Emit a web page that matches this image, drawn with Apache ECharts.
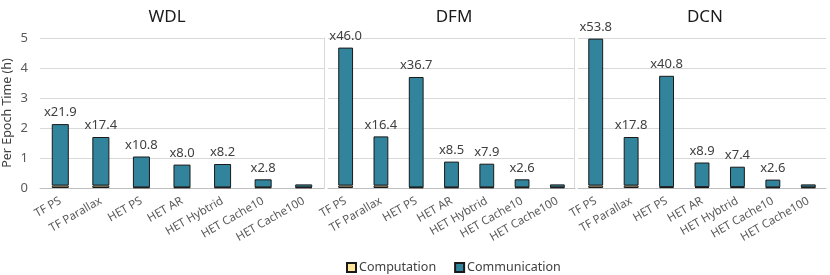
<!DOCTYPE html>
<html><head><meta charset="utf-8">
<script src="https://cdn.jsdelivr.net/npm/echarts@6/dist/echarts.min.js"></script>
<style>html,body{margin:0;padding:0;background:#fff}#c{width:830px;height:275px}</style>
</head><body><div id="c"></div>
<script>
const categories = ['TF PS','TF Parallax','HET PS','HET AR','HET Hybtrid','HET Cache10','HET Cache100'];
const models = ['WDL','DFM','DCN'];
const yTicks = [0,1,2,3,4,5];
const wdlTotal = [2.13, 1.70, 1.05, 0.78, 0.80, 0.29, 0.12];
const dfmTotal = [4.68, 1.72, 3.70, 0.88, 0.81, 0.29, 0.12];
const dcnTotal = [4.98, 1.70, 3.74, 0.85, 0.71, 0.28, 0.12];
const wdlComp = [0.08, 0.08, 0.02, 0.02, 0.02, 0.02, 0.02];
const dfmComp = [0.08, 0.08, 0.02, 0.02, 0.02, 0.02, 0.02];
const dcnComp = [0.08, 0.08, 0.03, 0.03, 0.03, 0.02, 0.02];
const wdlLabels = ['x21.9','x17.4','x10.8','x8.0','x8.2','x2.8',''];
const dfmLabels = ['x46.0','x16.4','x36.7','x8.5','x7.9','x2.6',''];
const dcnLabels = ['x53.8','x17.8','x40.8','x8.9','x7.4','x2.6',''];

const totals = [wdlTotal, dfmTotal, dcnTotal];
const comps = [wdlComp, dfmComp, dcnComp];
const labels = [wdlLabels, dfmLabels, dcnLabels];

const FONT = 'Noto Sans';
const grids = [
  {left: 40, width: 284, top: 38, height: 150},
  {left: 328, width: 247, top: 38, height: 150},
  {left: 578, width: 248, top: 38, height: 150}
];
const titleCenters = [162, 449, 700];
const compColor = '#FFE699';
const commColor = '#31849B';

const option = {
  animation: false,
  textStyle: {fontFamily: FONT},
  title: models.map((m, i) => ({
    text: m, left: titleCenters[i], top: 4, textAlign: 'center',
    textStyle: {fontFamily: FONT, fontSize: 17, fontWeight: 'normal', color: '#1a1a1a'}
  })),
  legend: {
    top: 256, left: 341, itemWidth: 9, itemHeight: 9, itemGap: 18,
    icon: 'rect',
    textStyle: {fontFamily: FONT, fontSize: 12.5, color: '#404040', padding: [0,0,0,-2]},
    data: ['Computation','Communication']
  },
  grid: grids,
  xAxis: grids.map((g, i) => ({
    type: 'category', gridIndex: i, data: categories,
    axisTick: {show: false},
    axisLine: {lineStyle: {color: '#bfbfbf', width: 1}},
    axisLabel: {rotate: 30, fontSize: 11.5, color: '#595959', margin: 12, interval: 0, fontFamily: FONT}
  })),
  yAxis: grids.map((g, i) => ({
    type: 'value', gridIndex: i, min: 0, max: 5, interval: 1,
    name: i === 0 ? 'Per Epoch Time (h)' : '',
    nameLocation: 'middle', nameGap: 26,
    nameTextStyle: {fontSize: 12.5, color: '#404040', fontFamily: FONT},
    offset: i === 0 ? 0 : 4,
    axisLine: {show: i !== 0, lineStyle: {color: '#d9d9d9', width: 1}},
    axisTick: {show: false},
    axisLabel: {show: i === 0, fontSize: 13, color: '#595959', margin: 12, fontFamily: FONT},
    splitLine: {lineStyle: {color: '#d9d9d9', width: 1}}
  })),
  series: []
};

for (let i = 0; i < 3; i++) {
  const comm = totals[i].map((t, k) => +(t - comps[i][k]).toFixed(3));
  option.series.push({
    name: 'Computation', type: 'bar', stack: 's' + i, xAxisIndex: i, yAxisIndex: i,
    data: comps[i], barWidth: '42%',
    itemStyle: {color: compColor, borderColor: '#1a1a1a', borderWidth: 1}
  });
  option.series.push({
    name: 'Communication', type: 'bar', stack: 's' + i, xAxisIndex: i, yAxisIndex: i,
    data: comm, barWidth: '42%',
    itemStyle: {color: commColor, borderColor: '#1a1a1a', borderWidth: 1},
    label: {
      show: true, position: 'top', distance: 5, fontSize: 13, color: '#404040', fontFamily: FONT,
      formatter: (p) => labels[i][p.dataIndex]
    }
  });
}

const chart = echarts.init(document.getElementById('c'), null, {renderer: 'canvas'});
chart.setOption(option);
</script></body></html>
